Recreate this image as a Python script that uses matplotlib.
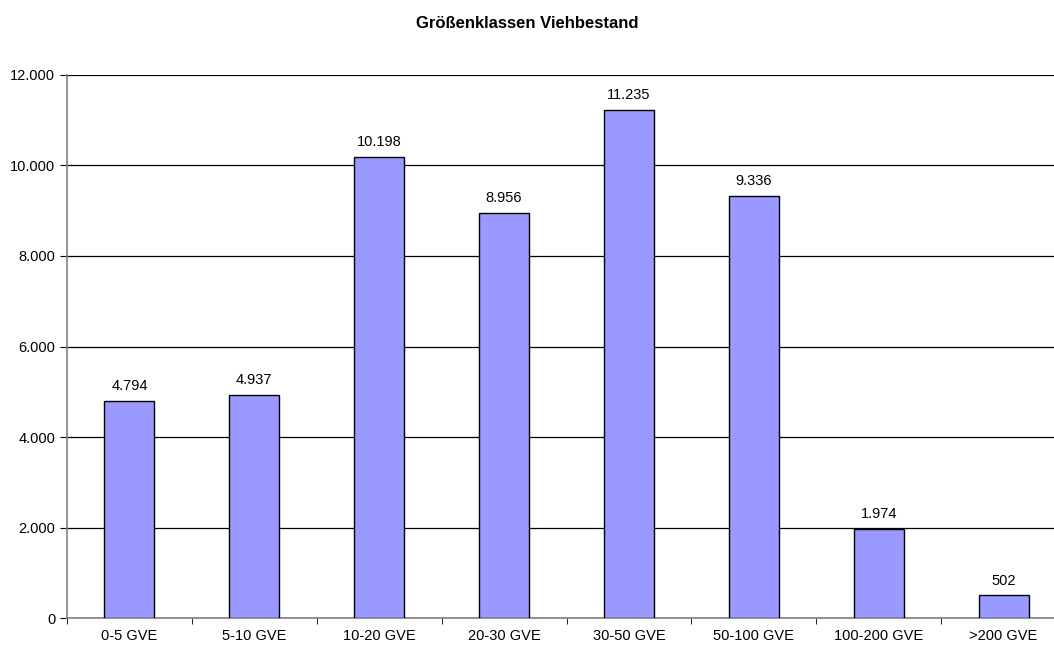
import matplotlib.pyplot as plt
from matplotlib.ticker import FuncFormatter

plt.rcParams['font.family'] = ['Liberation Sans', 'DejaVu Sans']

categories = ["0-5 GVE", "5-10 GVE", "10-20 GVE", "20-30 GVE",
              "30-50 GVE", "50-100 GVE", "100-200 GVE", ">200 GVE"]
values = [4794, 4937, 10198, 8956, 11235, 9336, 1974, 502]
yticks = [0, 2000, 4000, 6000, 8000, 10000, 12000]


def de_fmt(v, pos=None):
    return "{:,.0f}".format(v).replace(",", ".")


fig = plt.figure(figsize=(10.54, 6.47), dpi=100)
ax = fig.add_axes([0.0636, 0.0448, 0.9478, 0.8393])

x = list(range(len(categories)))
bars = ax.bar(x, values, width=0.4, color="#9999ff", edgecolor="black",
              linewidth=1, zorder=3)
for xi, v in zip(x, values):
    ax.text(xi, v + 170, de_fmt(v), ha="center", va="bottom", fontsize=10.5)

ax.set_xlim(-0.5, len(categories) - 0.5)
ax.set_ylim(0, 12000)
ax.set_yticks(yticks)
ax.yaxis.set_major_formatter(FuncFormatter(de_fmt))
ax.yaxis.grid(True, color="black", linewidth=0.9, zorder=0)

ax.set_xticks(x)
ax.set_xticklabels(categories)
ax.set_xticks([i - 0.5 for i in range(len(categories) + 1)], minor=True)
ax.tick_params(axis="x", which="major", length=0, pad=8, labelsize=10.5)
ax.tick_params(axis="x", which="minor", length=4, color="black")
ax.tick_params(axis="y", length=5, labelsize=10.5, color="black")

for s in ["top", "right"]:
    ax.spines[s].set_visible(False)
ax.spines["left"].set_color("#808080")
ax.spines["bottom"].set_color("#808080")
ax.spines["left"].set_linewidth(1.2)
ax.spines["bottom"].set_linewidth(1.2)

fig.text(0.5, 0.963, "Größenklassen Viehbestand", ha="center", va="center",
         fontsize=12, fontweight="bold")

fig.savefig("out.png", dpi=100)
